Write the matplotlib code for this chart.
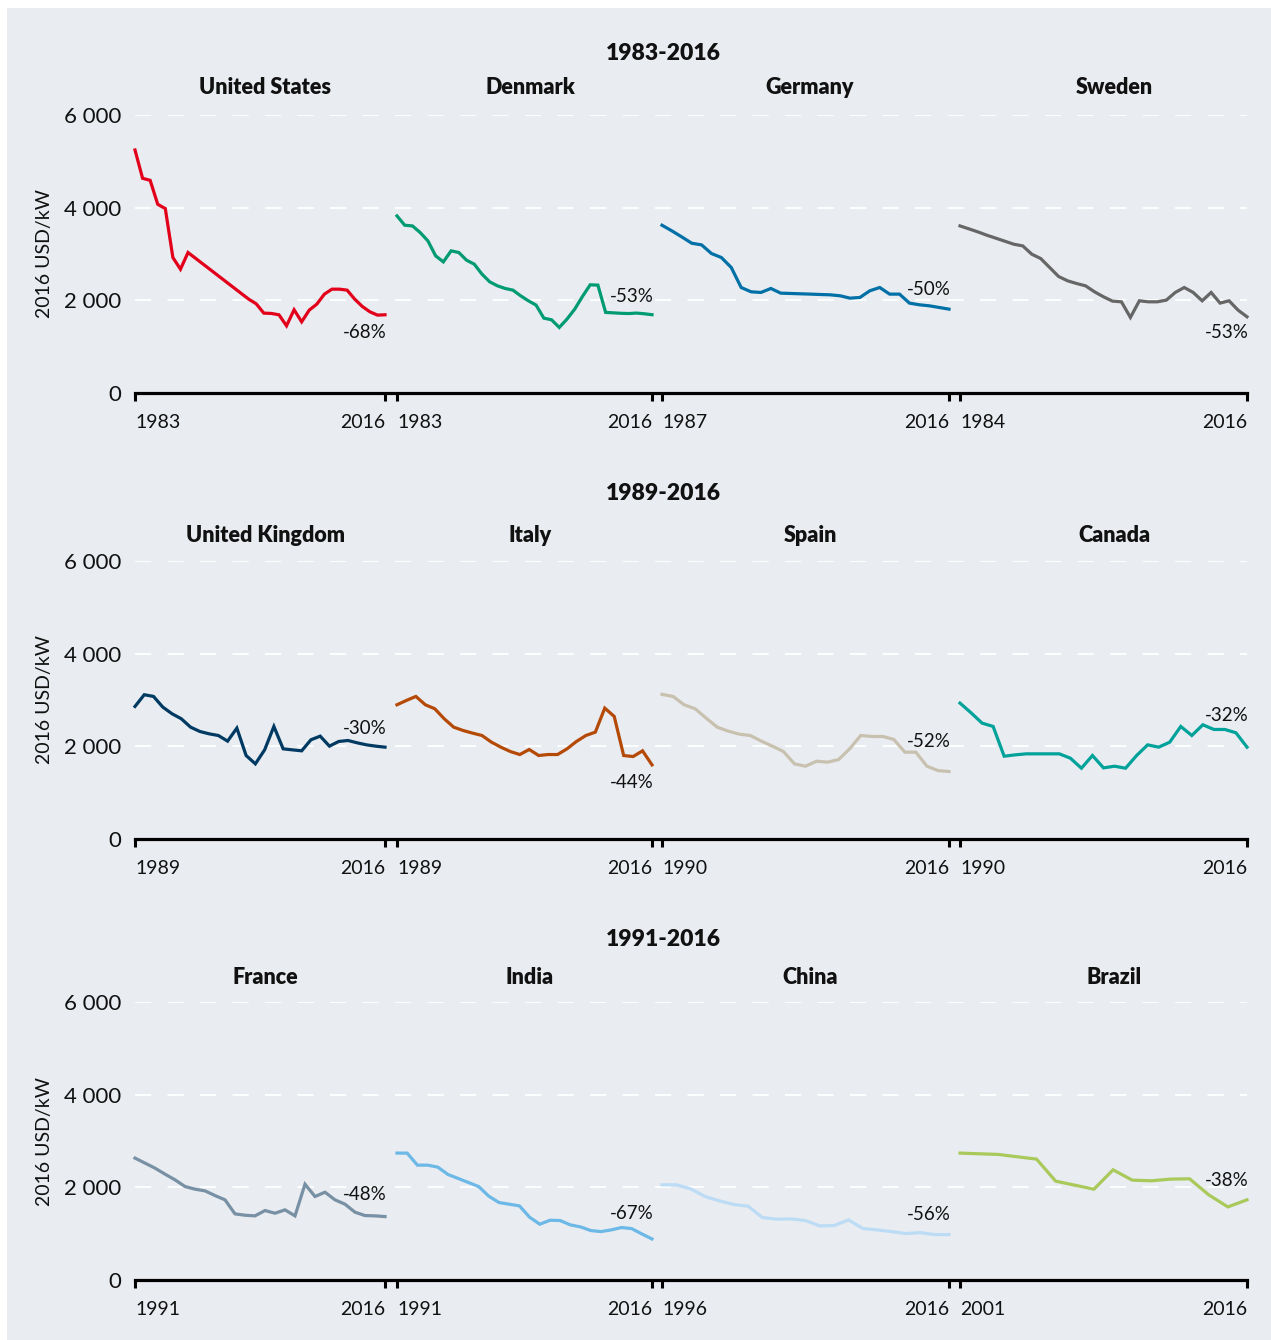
import matplotlib
matplotlib.use("Agg")
import matplotlib.pyplot as plt
from matplotlib.patches import Rectangle

plt.rcParams['font.family'] = ['Lato', 'DejaVu Sans']

# ---- data (2016 USD/kW) ----
us_years = [1983, 1984, 1985, 1986, 1987, 1988, 1989, 1990, 1998, 1999, 2000, 2001, 2002,
            2003, 2004, 2005, 2006, 2007, 2008, 2009, 2010, 2011, 2012, 2013, 2014, 2015, 2016]
us_cost = [5245, 4634, 4590, 4073, 3980, 2924, 2672, 3032, 2026, 1925, 1724, 1717, 1688,
           1451, 1796, 1537, 1789, 1918, 2134, 2241, 2241, 2220, 2026, 1868, 1753, 1681, 1688]

dk_years = list(range(1983, 2017))
dk_cost = [3822, 3621, 3606, 3463, 3283, 2960, 2830, 3068, 3032, 2866, 2780, 2565, 2399, 2313,
           2256, 2220, 2098, 1990, 1897, 1616, 1580, 1415, 1595, 1810, 2083, 2335, 2328, 1739,
           1730, 1720, 1715, 1725, 1710, 1690]

de_years = list(range(1987, 2017))
de_cost = [3621, 3499, 3369, 3233, 3197, 3010, 2924, 2708, 2277, 2184, 2170, 2256, 2155, 2148,
           2141, 2134, 2126, 2119, 2098, 2047, 2062, 2206, 2277, 2134, 2134, 1940, 1904, 1882,
           1846, 1810]

se_years = list(range(1984, 2017))
se_cost = [3606, 3542, 3477, 3405, 3341, 3276, 3211, 3175, 2996, 2902, 2708, 2514, 2421, 2363,
           2313, 2184, 2076, 1983, 1968, 1631, 1990, 1968, 1968, 2004, 2170, 2277, 2170, 1990,
           2170, 1940, 1990, 1789, 1645]

uk_years = list(range(1989, 2017))
uk_cost = [2861, 3114, 3077, 2847, 2703, 2595, 2414, 2321, 2270, 2234, 2112, 2393, 1802, 1622,
           1924, 2429, 1946, 1924, 1903, 2141, 2220, 2004, 2105, 2126, 2076, 2032, 2004, 1982]

it_years = list(range(1989, 2017))
it_cost = [2897, 2991, 3077, 2897, 2811, 2595, 2414, 2342, 2285, 2234, 2090, 1982, 1888, 1823,
           1932, 1802, 1823, 1823, 1946, 2105, 2234, 2306, 2825, 2645, 1802, 1780, 1903, 1600]

es_years = list(range(1990, 2017))
es_cost = [3121, 3077, 2897, 2811, 2609, 2414, 2328, 2263, 2234, 2112, 2004, 1888, 1622, 1571,
           1679, 1658, 1715, 1946, 2234, 2213, 2213, 2148, 1874, 1874, 1571, 1477, 1456]

ca_years = list(range(1990, 2017))
ca_cost = [2933, 2724, 2501, 2429, 1787, 1816, 1838, 1838, 1838, 1838, 1744, 1528, 1802, 1535,
           1571, 1528, 1802, 2032, 1982, 2090, 2429, 2234, 2465, 2364, 2364, 2292, 1982]

fr_years = list(range(1991, 2017))
fr_cost = [2631, 2523, 2414, 2285, 2162, 2018, 1960, 1924, 1823, 1730, 1427, 1398, 1384, 1499,
           1441, 1514, 1384, 2068, 1802, 1895, 1730, 1636, 1463, 1391, 1384, 1369]

in_years = list(range(1991, 2017))
in_cost = [2739, 2738, 2479, 2479, 2436, 2277, 2191, 2105, 2018, 1809, 1672, 1636, 1600, 1355,
           1204, 1290, 1283, 1189, 1146, 1067, 1045, 1081, 1132, 1110, 995, 886]

cn_years = list(range(1996, 2017))
cn_cost = [2054, 2054, 1967, 1802, 1708, 1629, 1593, 1348, 1312, 1319, 1283, 1168, 1175, 1297,
           1110, 1081, 1045, 1002, 1023, 980, 980]

br_years = list(range(2001, 2017))
br_cost = [2739, 2724, 2710, 2659, 2609, 2133, 2047, 1960, 2378, 2155, 2141, 2177, 2184, 1838,
           1578, 1730]

row_titles = ["1983-2016", "1989-2016", "1991-2016"]
countries = [["United States", "Denmark", "Germany", "Sweden"],
             ["United Kingdom", "Italy", "Spain", "Canada"],
             ["France", "India", "China", "Brazil"]]
series = [[(us_years, us_cost), (dk_years, dk_cost), (de_years, de_cost), (se_years, se_cost)],
          [(uk_years, uk_cost), (it_years, it_cost), (es_years, es_cost), (ca_years, ca_cost)],
          [(fr_years, fr_cost), (in_years, in_cost), (cn_years, cn_cost), (br_years, br_cost)]]
changes = [["-68%", "-53%", "-50%", "-53%"],
           ["-30%", "-44%", "-52%", "-32%"],
           ["-48%", "-67%", "-56%", "-38%"]]

# ---- styling / layout ----
colors = [["#e2001a", "#009b72", "#0070a6", "#666666"],
          ["#003a62", "#b44a06", "#c9c1b0", "#00a29a"],
          ["#7890a4", "#6cb8e6", "#bcdcf5", "#a9c95b"]]
label_y = [[1316, 2072, 2244, 1295],
           [2395, 1230, 2115, 2676],
           [1856, 1446, 1403, 2158]]

W, H = 1271, 1340
BG = "#e9ecf1"
fig = plt.figure(figsize=(W / 100, H / 100), dpi=100, facecolor="white")
fig.patches.append(Rectangle((7 / W, 0), 1, 1 - 8 / H, transform=fig.transFigure,
                             facecolor=BG, edgecolor="none", zorder=-10))

panel_px = [(135, 385), (397, 652), (662, 949), (960, 1247)]
title_x_px = [265, 530, 810, 1114]
row_px = [(393, 115), (839, 561), (1280, 1002)]  # (y of 0, y of 6000)
row_title_px = [53, 494, 939]
title_px = [88, 536, 977]

for r in range(3):
    y0, y1 = row_px[r]
    bottom = 1 - y0 / H
    height = (y0 - y1) / H

    # background axes: grid, y labels, continuous baseline
    bg = fig.add_axes([135 / W, bottom, (1247 - 135) / W, height])
    bg.set_facecolor("none")
    bg.set_ylim(0, 6000)
    bg.set_xlim(0, 1)
    bg.set_yticks([0, 2000, 4000, 6000])
    bg.set_yticklabels(["0", "2 000", "4 000", "6 000"])
    bg.tick_params(axis="y", length=0, pad=10, labelsize=16, labelcolor="#111111")
    bg.set_xticks([])
    for side in ["top", "right", "left"]:
        bg.spines[side].set_visible(False)
    bg.spines["bottom"].set_linewidth(2.3)
    bg.spines["bottom"].set_color("black")
    for yv in [2000, 4000, 6000]:
        bg.axhline(yv, color="white", lw=1.3, dashes=(9, 9), zorder=0)
    bg.set_ylabel("2016 USD/kW", fontsize=14, labelpad=8, color="#111111")

    fig.text(663 / W, 1 - row_title_px[r] / H, row_titles[r], ha="center", va="center",
             fontsize=16.5, fontweight="heavy", color="#111111")

    for c in range(4):
        x0, x1 = panel_px[c]
        ax = fig.add_axes([x0 / W, bottom, (x1 - x0) / W, height])
        ax.set_facecolor("none")
        years, cost = series[r][c]
        ax.plot(years, cost, color=colors[r][c], lw=2.3, solid_joinstyle="miter",
                clip_on=False, zorder=3)
        ax.set_xlim(years[0], 2016)
        ax.set_ylim(0, 6000)
        ax.set_yticks([])
        ax.set_xticks([years[0], 2016])
        ax.set_xticklabels([str(years[0]), "2016"])
        labs = ax.get_xticklabels()
        labs[0].set_horizontalalignment("left")
        labs[1].set_horizontalalignment("right")
        ax.tick_params(axis="x", direction="out", length=6, width=2.2, color="black",
                       pad=9, labelsize=14, labelcolor="#111111")
        for side in ax.spines:
            ax.spines[side].set_visible(False)
        ax.annotate(changes[r][c], xy=(2016, label_y[r][c]), xytext=(1, 0),
                    textcoords="offset points", ha="right", va="center",
                    fontsize=13.5, color="#111111", annotation_clip=False)
        fig.text(title_x_px[c] / W, 1 - title_px[r] / H, countries[r][c],
                 ha="center", va="center", fontsize=15.5, fontweight="heavy", color="#111111")

fig.savefig("out.png", dpi=100, facecolor=fig.get_facecolor())
